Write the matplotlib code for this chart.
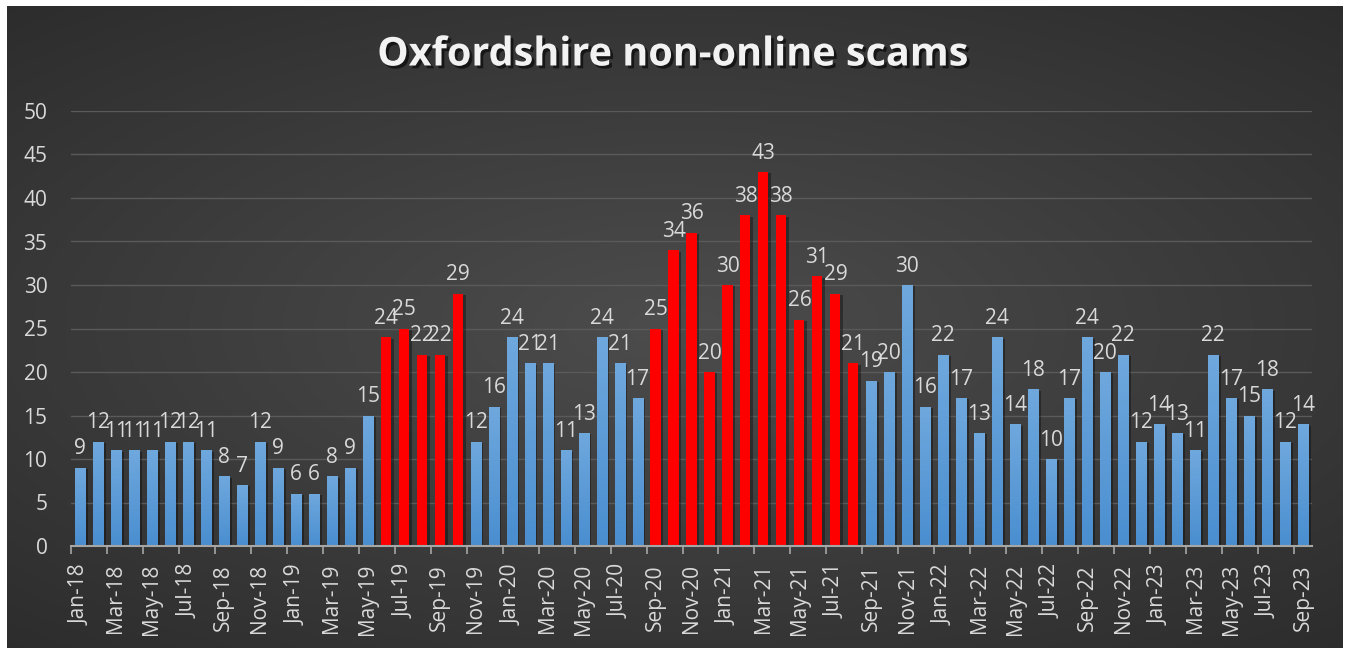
import numpy as np
import matplotlib
matplotlib.use("Agg")
import matplotlib.pyplot as plt
import matplotlib.patheffects as pe
from matplotlib.colors import LinearSegmentedColormap

months = ["Jan-18","Feb-18","Mar-18","Apr-18","May-18","Jun-18","Jul-18","Aug-18","Sep-18","Oct-18","Nov-18","Dec-18",
          "Jan-19","Feb-19","Mar-19","Apr-19","May-19","Jun-19","Jul-19","Aug-19","Sep-19","Oct-19","Nov-19","Dec-19",
          "Jan-20","Feb-20","Mar-20","Apr-20","May-20","Jun-20","Jul-20","Aug-20","Sep-20","Oct-20","Nov-20","Dec-20",
          "Jan-21","Feb-21","Mar-21","Apr-21","May-21","Jun-21","Jul-21","Aug-21","Sep-21","Oct-21","Nov-21","Dec-21",
          "Jan-22","Feb-22","Mar-22","Apr-22","May-22","Jun-22","Jul-22","Aug-22","Sep-22","Oct-22","Nov-22","Dec-22",
          "Jan-23","Feb-23","Mar-23","Apr-23","May-23","Jun-23","Jul-23","Aug-23","Sep-23"]
scams = [9,12,11,11,11,12,12,11,8,7,12,9,
         6,6,8,9,15,24,25,22,22,29,12,16,
         24,21,21,11,13,24,21,17,25,34,36,20,
         30,38,43,38,26,31,29,21,19,20,30,16,
         22,17,13,24,14,18,10,17,24,20,22,12,
         14,13,11,22,17,15,18,12,14]
highlighted = ["Jun-19","Jul-19","Aug-19","Sep-19","Oct-19",
               "Sep-20","Oct-20","Nov-20","Dec-20","Jan-21","Feb-21","Mar-21","Apr-21",
               "May-21","Jun-21","Jul-21","Aug-21"]
title = "Oxfordshire non-online scams"

W, H = 1350, 652
fig = plt.figure(figsize=(W/100, H/100), dpi=100)
fig.patch.set_facecolor("white")

# dark gradient background panel
bg = fig.add_axes([7/W, 1-648/H, (1343-7)/W, (648-6)/H])
yy, xx = np.mgrid[-1:1:300j, -1:1:600j]
r = np.sqrt((xx*0.9)**2 + (yy*1.0)**2)
img = 0.30 - 0.13*np.clip(r, 0, 1.4)/1.4
bg.imshow(np.dstack([img, img, img]), aspect="auto", extent=[0, 1, 0, 1], interpolation="bicubic")
bg.set_axis_off()

x0, x1, ytop, ybot = 71, 1312, 111, 546
ax = fig.add_axes([x0/W, 1-ybot/H, (x1-x0)/W, (ybot-ytop)/H])
ax.patch.set_alpha(0)

n = len(months)
x = np.arange(n)
is_hi = [m in highlighted for m in months]
colors = ["#ff0000" if h else "#5b9bd5" for h in is_hi]
bars = ax.bar(x, scams, width=0.56, color=colors, zorder=3)
for b in bars:
    b.set_path_effects([pe.SimplePatchShadow(offset=(2, -1), shadow_rgbFace="black", alpha=0.35), pe.Normal()])

ax.set_xlim(-0.5, n-0.5)
ax.set_ylim(0, 50)

# vertical gradient on blue bars
blue_cmap = LinearSegmentedColormap.from_list("bl", ["#4a8ed0", "#6fa8dd"])
grad = np.linspace(0, 1, 256).reshape(-1, 1)
for b, h in zip(bars, is_hi):
    if h:
        continue
    bx, by = b.get_x(), b.get_y()
    bw, bh = b.get_width(), b.get_height()
    im = ax.imshow(grad, cmap=blue_cmap, aspect="auto", origin="lower",
                   extent=[bx, bx+bw, by, by+bh], zorder=3.5)
    im.set_clip_path(b)
ax.set_xlim(-0.5, n-0.5)
ax.set_ylim(0, 50)

ax.set_yticks(range(0, 51, 5))
ax.yaxis.grid(True, color="#5a5a5a", linewidth=1.0, zorder=0)
ax.set_axisbelow(True)

ax.set_xticks(x[::2])
ax.set_xticklabels(months[::2], rotation=90)
ax.set_xticks(np.arange(-0.5, n, 2), minor=True)
ax.tick_params(axis="x", which="major", length=0, pad=13, labelsize=15, colors="#d9d9d9")
ax.tick_params(axis="x", which="minor", length=6, width=1.2, color="#a6a6a6")
ax.tick_params(axis="y", length=0, pad=17, labelsize=15, colors="#d9d9d9")
for lab in ax.get_xticklabels() + ax.get_yticklabels():
    lab.set_fontfamily("Open Sans")

for s in ["top", "right", "left"]:
    ax.spines[s].set_visible(False)
ax.spines["bottom"].set_color("#a6a6a6")
ax.spines["bottom"].set_linewidth(1.5)
ax.spines["bottom"].set_zorder(4)

for xi, v in zip(x, scams):
    ax.annotate(str(v), (xi, v), xytext=(0, 6), textcoords="offset points",
                ha="center", va="bottom", fontsize=15, color="#d9d9d9",
                family="Open Sans", zorder=5)

fig.text(673/W, 1-55/H, title, ha="center", va="center", fontsize=28.5, fontweight="bold",
         color="#f2f2f2", family="Open Sans",
         path_effects=[pe.withSimplePatchShadow(offset=(2, -2), shadow_rgbFace="black", alpha=0.6)])

fig.savefig("out.png", dpi=100, facecolor=fig.get_facecolor())
